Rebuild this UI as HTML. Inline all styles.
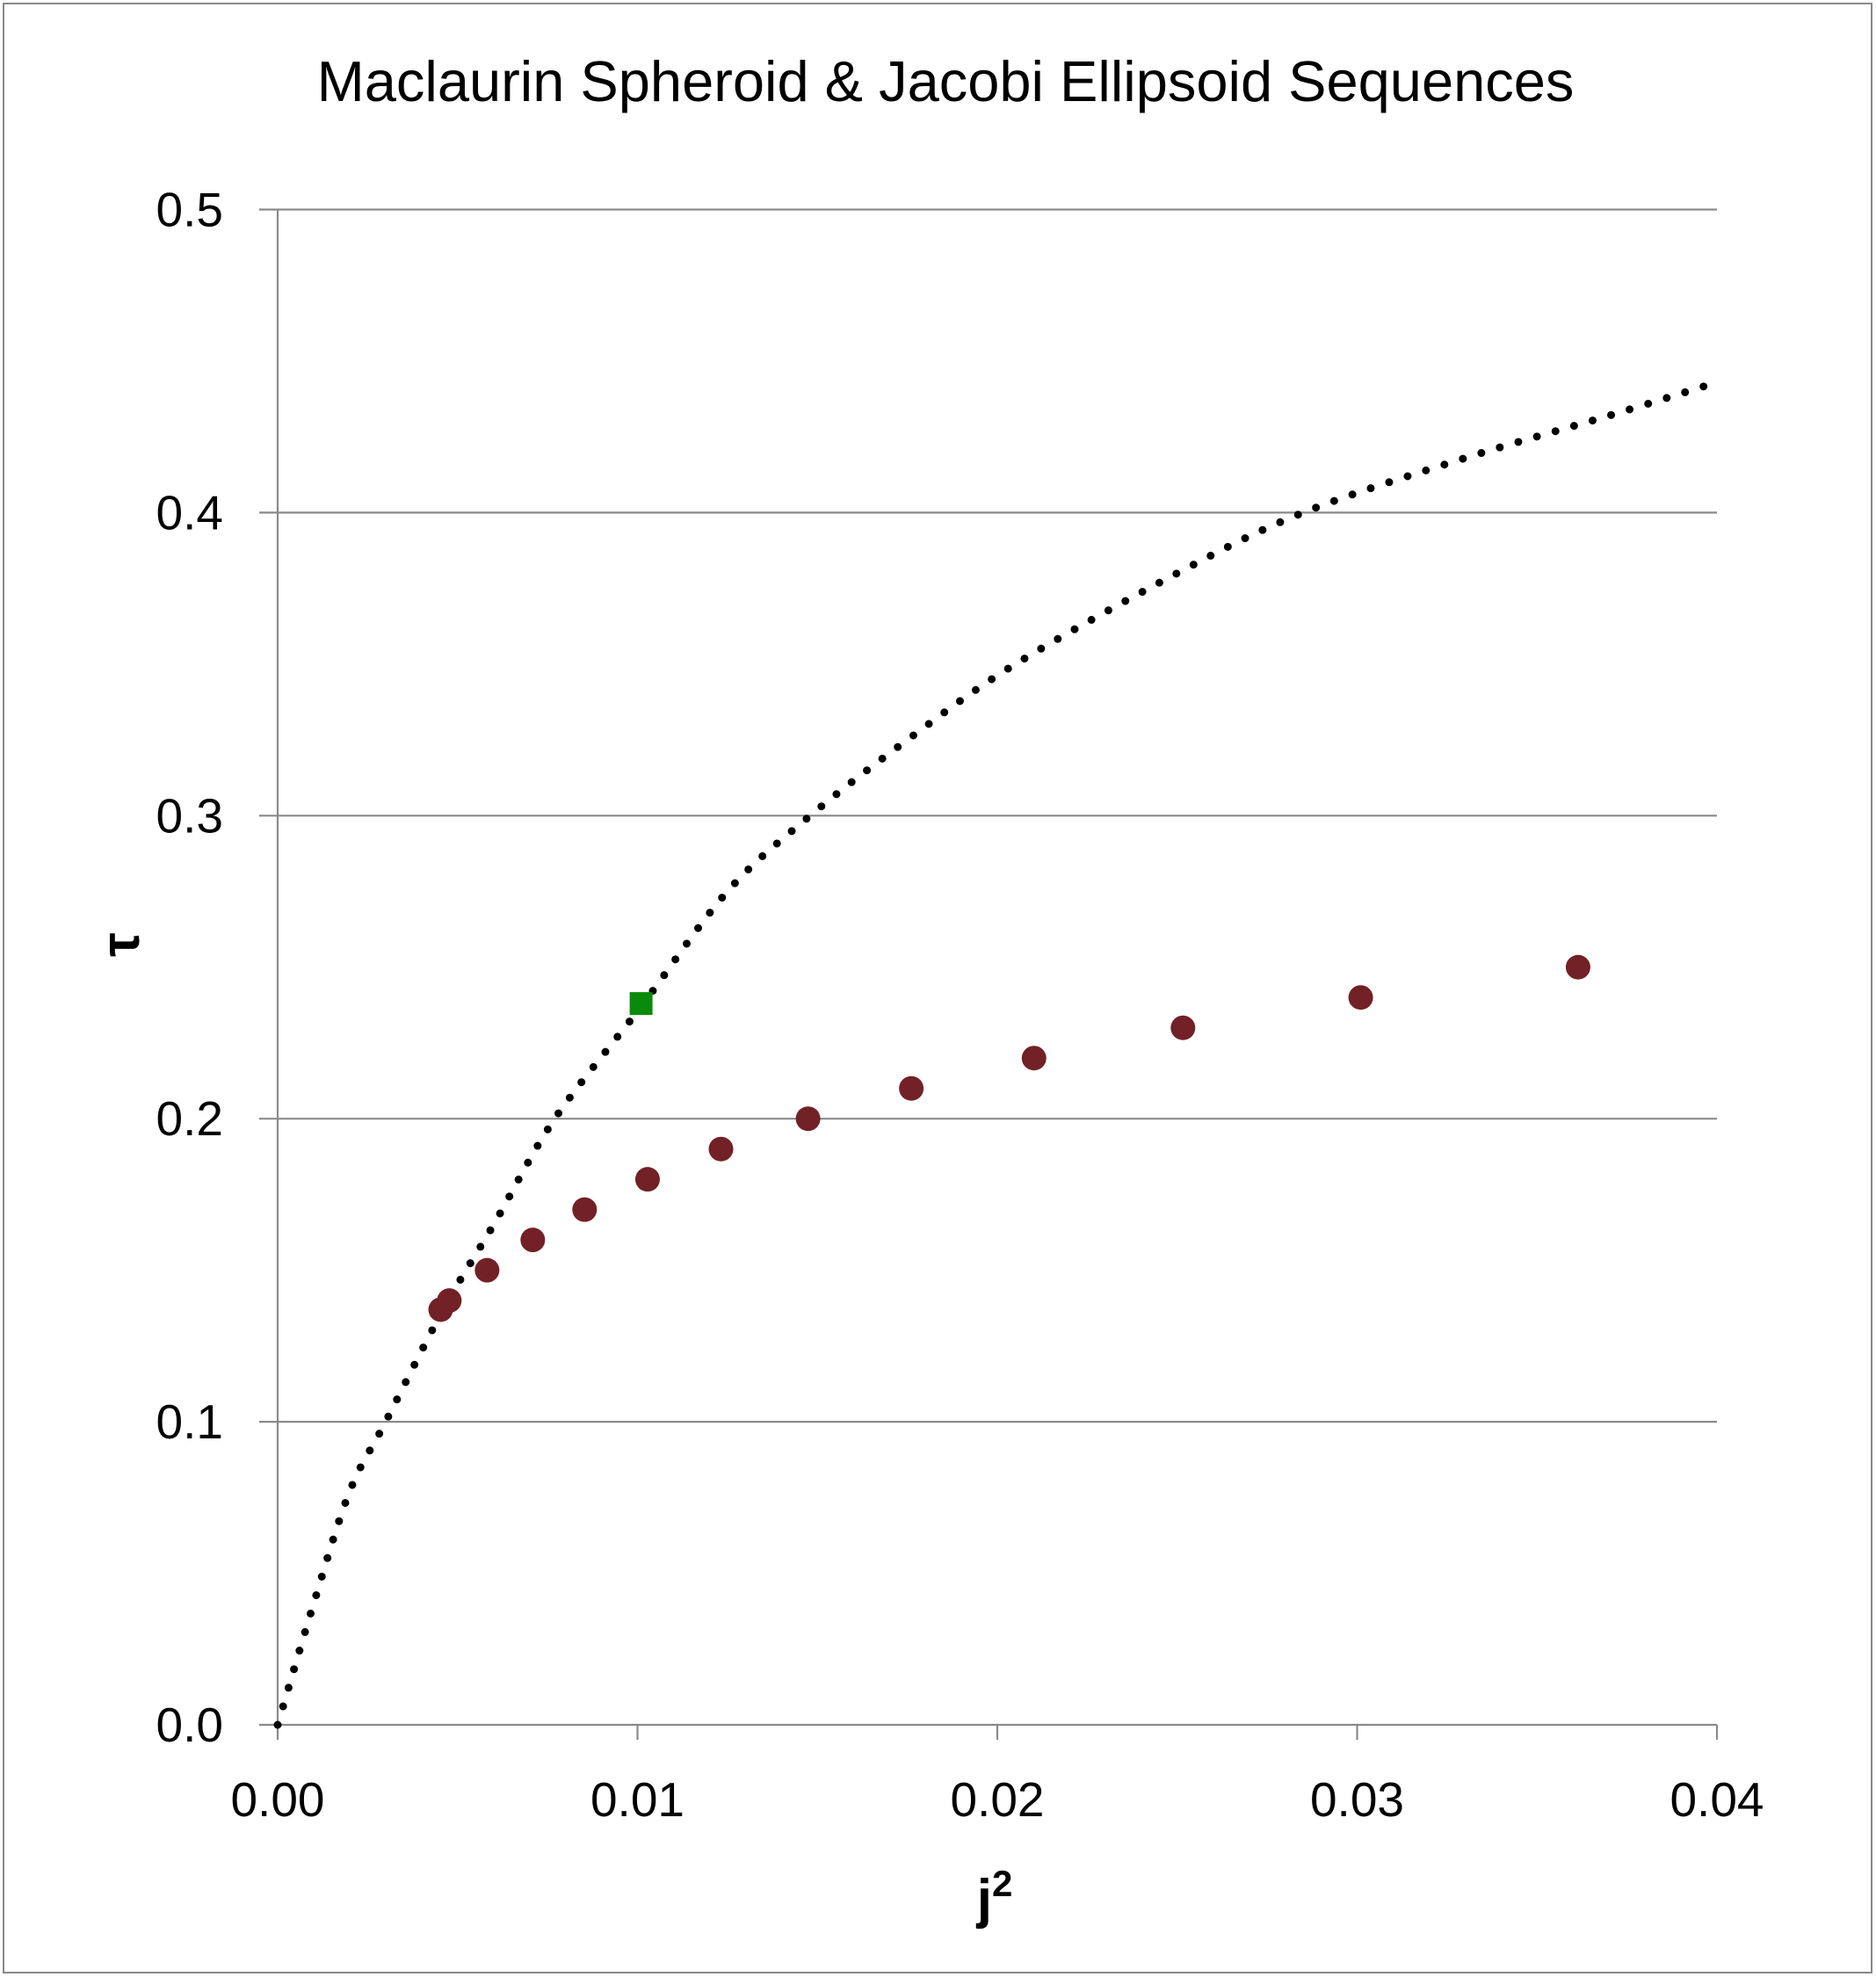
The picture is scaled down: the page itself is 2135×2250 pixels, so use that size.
<!DOCTYPE html>
<html><head><meta charset="utf-8"><style>
html,body{margin:0;padding:0;background:#fff;}
svg{display:block;font-family:"Liberation Sans",sans-serif;}
</style></head><body>
<svg id="chart" width="2135" height="2250" viewBox="0 0 2135 2250">
<rect x="4" y="4" width="2126" height="2241" fill="#fff" stroke="#888" stroke-width="2"/>
<text x="1076" y="115" font-size="65" text-anchor="middle" fill="#000">Maclaurin Spheroid &amp; Jacobi Ellipsoid Sequences</text>
<g id="grid"></g><g id="axes"></g><g id="marks"></g>
<text x="1132" y="2182" font-size="62" font-weight="bold" text-anchor="middle">j<tspan dy="-24" font-size="42">2</tspan></text>
<text transform="translate(158,1075) rotate(-90)" font-size="62" font-weight="bold" text-anchor="middle">τ</text>
</svg>
<script>
const xTicks=[0,0.01,0.02,0.03,0.04];
const xTickLabels=["0.00","0.01","0.02","0.03","0.04"];
const yTicks=[0,0.1,0.2,0.3,0.4,0.5];
const yTickLabels=["0.0","0.1","0.2","0.3","0.4","0.5"];
const maclaurinJ2=[0,0.001,0.002,0.003,0.0046,0.006,0.0077,0.0101,0.0125,0.0148,0.0175,0.0205,0.025,0.0285,0.033,0.037,0.04];
const maclaurinTau=[0,0.04,0.077,0.1,0.137,0.165,0.2,0.237,0.275,0.3,0.325,0.35,0.38,0.4,0.418,0.432,0.443];
const jacobiJ2=[0.00453,0.00477,0.00582,0.00709,0.00853,0.01028,0.01232,0.01474,0.01761,0.02102,0.02516,0.0301,0.03614];
const jacobiTau=[0.137,0.14,0.15,0.16,0.17,0.18,0.19,0.2,0.21,0.22,0.23,0.24,0.25];
const bifurcationJ2=[0.0101];
const bifurcationTau=[0.238];

const NS="http://www.w3.org/2000/svg";
const X0=316,X1=1954,Y0=1963,Y1=238.5;
const sx=v=>X0+(v-0)/(0.04)*(X1-X0);
const sy=v=>Y0-(v/0.5)*(Y0-Y1);
function mk(tag,attrs,parent){const e=document.createElementNS(NS,tag);for(const k in attrs)e.setAttribute(k,attrs[k]);document.getElementById(parent).appendChild(e);return e;}
yTicks.forEach((t,i)=>{
  const g=mk('line',{x1:295,x2:X1,y1:sy(t),y2:sy(t),stroke:'#8a8a8a','stroke-width':2.2},'grid');
  
  
  const l=mk('text',{x:254,y:sy(t)+19,'font-size':55,'text-anchor':'end'},'axes');
  l.textContent=yTickLabels[i];
  
  
});
const ya=mk('line',{x1:X0,x2:X0,y1:Y1,y2:Y0,stroke:'#8a8a8a','stroke-width':2.2},'axes');


xTicks.forEach((t,i)=>{
  const tk=mk('line',{x1:sx(t),x2:sx(t),y1:Y0,y2:Y0+17,stroke:'#8a8a8a','stroke-width':2.2},'axes');
  
  
  const l=mk('text',{x:sx(t),y:2067,'font-size':55,'text-anchor':'middle'},'axes');
  l.textContent=xTickLabels[i];
  
  
});
let pts=maclaurinJ2.map((v,i)=>[sx(v),sy(maclaurinTau[i])]);
let d="M"+pts[0][0]+","+pts[0][1];
for(let i=0;i<pts.length-1;i++){
  const p0=pts[Math.max(0,i-1)],p1=pts[i],p2=pts[i+1],p3=pts[Math.min(pts.length-1,i+2)];
  const c1=[p1[0]+(p2[0]-p0[0])/6,p1[1]+(p2[1]-p0[1])/6];
  const c2=[p2[0]-(p3[0]-p1[0])/6,p2[1]-(p3[1]-p1[1])/6];
  d+=` C${c1[0]},${c1[1]} ${c2[0]},${c2[1]} ${p2[0]},${p2[1]}`;
}
const mc=mk('path',{d:d,fill:'none',stroke:'#000','stroke-width':9,'stroke-linecap':'round','stroke-dasharray':'0 22'},'marks');


jacobiJ2.forEach((v,i)=>{
  const c=mk('circle',{cx:sx(v),cy:sy(jacobiTau[i]),r:14,fill:'#722126'},'marks');
  
  
});
bifurcationJ2.forEach((v,i)=>{
  const r=mk('rect',{x:sx(v)-13,y:sy(bifurcationTau[i])-13,width:26,height:26,fill:'#0a8a0a'},'marks');
  
  
});
</script>
</body></html>
